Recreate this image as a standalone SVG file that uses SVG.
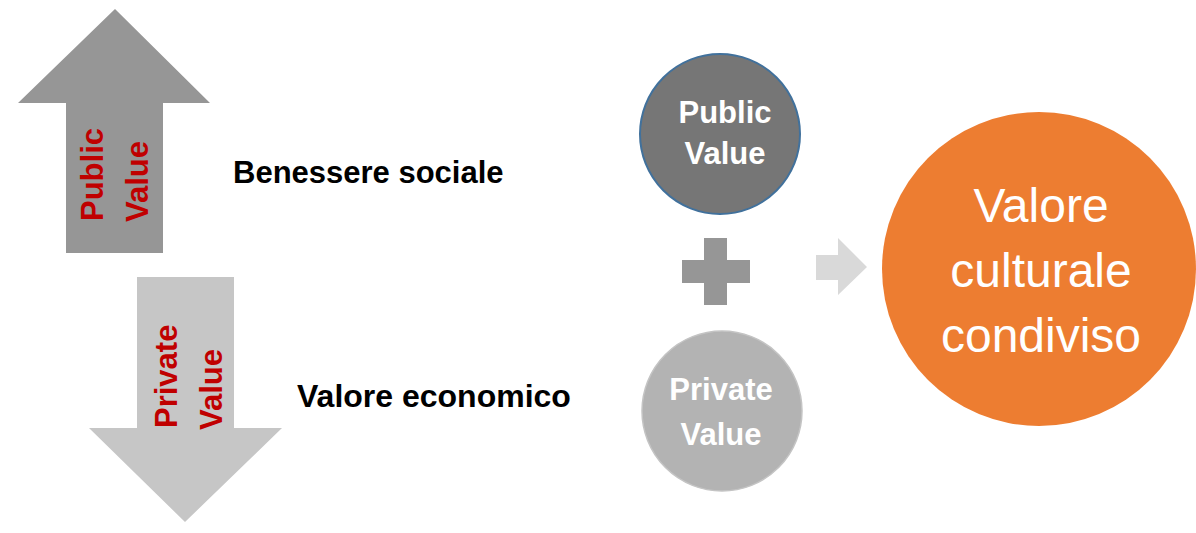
<svg xmlns="http://www.w3.org/2000/svg" width="1196" height="533" viewBox="0 0 1196 533">
  <style>
    .arrow-label { font-family: "Liberation Sans", Arial, sans-serif; font-weight: bold; font-size: 31px; fill: #c00000; }
    .side-label { font-family: "Liberation Sans", Arial, sans-serif; font-weight: bold; font-size: 31px; fill: #000000; }
    .circle-label { font-family: "Liberation Sans", Arial, sans-serif; font-weight: bold; font-size: 31px; fill: #ffffff; text-anchor: middle; }
    .result-label { font-family: "Liberation Sans", Arial, sans-serif; font-size: 48px; fill: #ffffff; text-anchor: middle; }
  </style>
  <rect width="1196" height="533" fill="#ffffff"/>

  <!-- Upward arrow: public value -->
  <g id="public-arrow">
    <polygon points="115,9 210,103 163,103 163,253 66,253 66,103 18,103" fill="#969696"/>
    <text class="arrow-label" transform="translate(103,221) rotate(-90)">Public</text>
    <text class="arrow-label" transform="translate(148,222) rotate(-90)">Value</text>
  </g>

  <!-- Downward arrow: private value -->
  <g id="private-arrow">
    <polygon points="137,277 234,277 234,428 282,428 185,522 89,428 137,428" fill="#c6c6c6"/>
    <text class="arrow-label" transform="translate(177,428) rotate(-90)">Private</text>
    <text class="arrow-label" transform="translate(222,430) rotate(-90)">Value</text>
  </g>

  <g id="label-benessere">
    <text class="side-label" x="233" y="183">Benessere sociale</text>
  </g>
  <g id="label-economico">
    <text class="side-label" x="297" y="407" style="font-size:32px">Valore economico</text>
  </g>

  <g id="public-circle">
    <circle cx="720" cy="134" r="80" fill="#767676" stroke="#41719c" stroke-width="2"/>
    <text class="circle-label" x="725" y="123">Public</text>
    <text class="circle-label" x="725" y="164">Value</text>
  </g>

  <g id="private-circle">
    <circle cx="722" cy="411" r="80" fill="#b3b3b3" stroke="#c4c4c4" stroke-width="1.5"/>
    <text class="circle-label" x="721" y="400">Private</text>
    <text class="circle-label" x="721" y="445">Value</text>
  </g>

  <g id="connectors">
    <!-- plus sign -->
    <path d="M704,238 H727 V260 H750 V283 H727 V305 H704 V283 H682 V260 H704 Z" fill="#969696"/>
    <!-- arrow to result -->
    <polygon points="816,255 838,255 838,238 867,267 838,295 838,280 816,280" fill="#d9d9d9"/>
  </g>

  <g id="result-circle">
    <circle cx="1039" cy="269" r="157" fill="#ed7d31"/>
    <text class="result-label" x="1041" y="222">Valore</text>
    <text class="result-label" x="1041" y="287">culturale</text>
    <text class="result-label" x="1041" y="352">condiviso</text>
  </g>
</svg>
